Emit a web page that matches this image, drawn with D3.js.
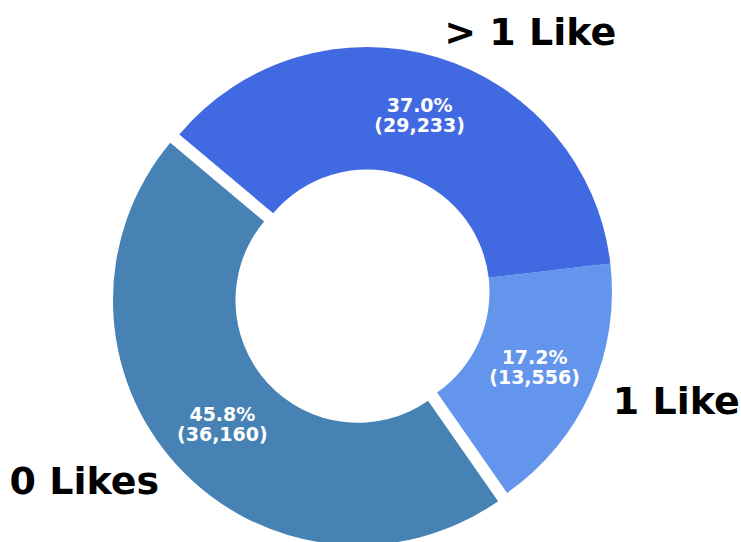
<!DOCTYPE html>
<html>
<head>
<meta charset="utf-8">
<script src="https://cdn.jsdelivr.net/npm/d3@7"></script>
<style>
  html, body { margin: 0; padding: 0; background: #ffffff; }
  svg { display: block; }
  text { font-family: "DejaVu Sans", sans-serif; font-weight: bold; }
</style>
</head>
<body>
<svg id="chart" width="741" height="542"></svg>
<script>
// Like counts per group
const categories = ["0 Likes", "1 Like", "> 1 Like"];
const counts = [36160, 13556, 29233];
const colors = ["#4682B4", "#6495ED", "#4169E1"];
const explode = [0.05, 0, 0];

const width = 741, height = 542;
const cx = 367, cy = 292;
const R = 245;
const innerR = R * 0.5;
const labelDistance = 1.1;
const pctDistance = 0.75;

const svg = d3.select("#chart");
const total = d3.sum(counts);

// Start at 140° (counterclockwise from 3 o'clock) and run counterclockwise
const startDeg = 140;
const a0 = (90 - startDeg) * Math.PI / 180;
const pie = d3.pie().sort(null).value(d => d.count)
  .startAngle(a0).endAngle(a0 - 2 * Math.PI);

const data = categories.map((c, i) => ({ name: c, count: counts[i], color: colors[i], explode: explode[i] }));
const arcs = pie(data);

const arc = d3.arc().innerRadius(innerR).outerRadius(R);
const fmtPct = d3.format(".1%");
const fmtNum = d3.format(",");

const g = svg.append("g").attr("transform", `translate(${cx},${cy})`);

arcs.forEach(d => {
  const mid = (d.startAngle + d.endAngle) / 2;
  const ux = Math.sin(mid), uy = -Math.cos(mid);
  const off = d.data.explode * R;
  const ox = ux * off, oy = uy * off;

  const wedge = g.append("g").attr("transform", `translate(${ox},${oy})`);
  wedge.append("path").attr("d", arc(d)).attr("fill", d.data.color);

  // Percentage + count label inside the ring
  const px = ux * R * pctDistance, py = uy * R * pctDistance;
  const t = wedge.append("text")
    .attr("text-anchor", "middle")
    .attr("fill", "#ffffff")
    .style("font-size", "19px");
  t.append("tspan").attr("x", px).attr("y", py - 3.5).text(fmtPct(d.data.count / total));
  t.append("tspan").attr("x", px).attr("y", py + 16.5).text(`(${fmtNum(d.data.count)})`);

  // Category label outside the ring
  const lx = ux * R * labelDistance, ly = uy * R * labelDistance;
  wedge.append("text")
    .attr("x", lx).attr("y", ly)
    .attr("dy", "0.3em")
    .attr("text-anchor", lx > 0 ? "start" : "end")
    .attr("fill", "#000000")
    .style("font-size", "38px")
    .text(d.data.name);
});
</script>
</body>
</html>
